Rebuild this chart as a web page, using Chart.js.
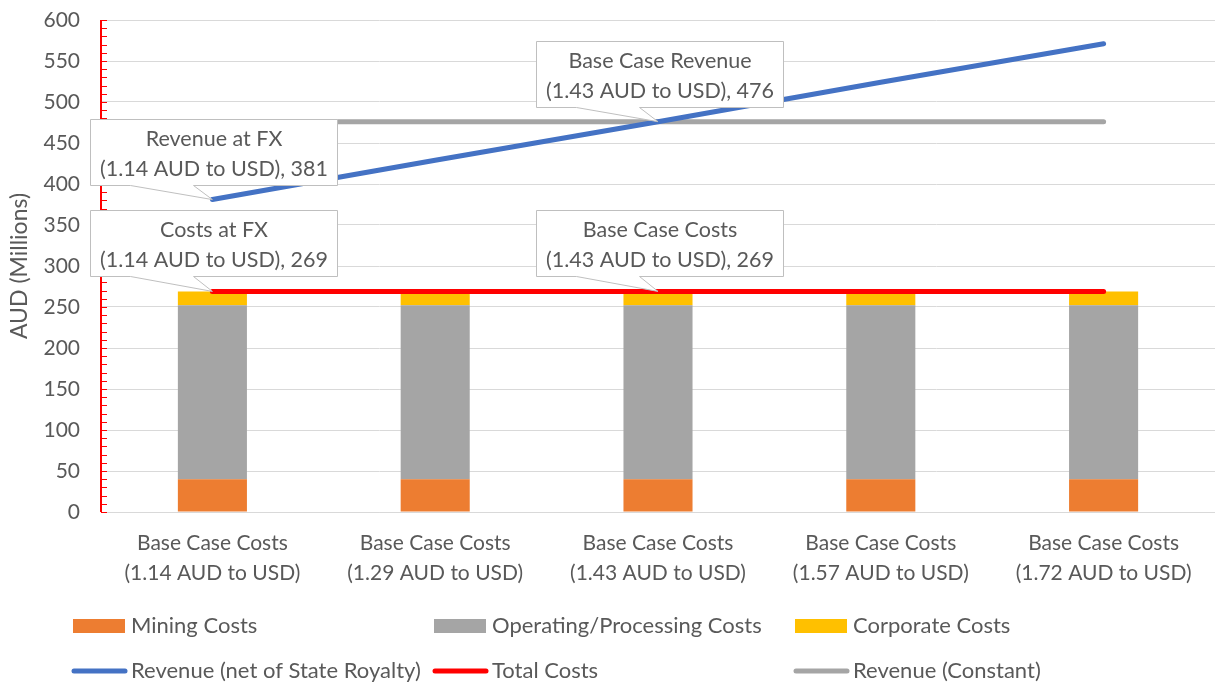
<!DOCTYPE html>
<html>
<head>
<meta charset="utf-8">
<script src="https://cdn.jsdelivr.net/npm/chart.js@4/dist/chart.umd.min.js"></script>
<style>
  html, body { margin: 0; padding: 0; background: #fff; }
  #wrap { width: 1215px; height: 684px; }
</style>
</head>
<body>
<div id="wrap"><canvas id="fxChart" width="1215" height="684"></canvas></div>
<script>
// FX sensitivity - costs vs revenue
const fxRates = ['1.14', '1.29', '1.43', '1.57', '1.72'];
const categories = fxRates.map(r => ['Base Case Costs', '(' + r + ' AUD to USD)']);

const miningCosts = [40, 40, 40, 40, 40];
const operatingCosts = [212, 212, 212, 212, 212];
const corporateCosts = [17, 17, 17, 17, 17];
const revenueNet = [381, 429, 476, 524, 571];
const totalCosts = [269, 269, 269, 269, 269];
const revenueConstant = [476, 476, 476, 476, 476];

const yMin = 0, yMax = 600, yStep = 50, yMinorStep = 10;

// callouts: which dataset / point, and heading text
const callouts = [
    { dataset: 3, index: 0, title: 'Revenue at FX' },
    { dataset: 4, index: 0, title: 'Costs at FX' },
    { dataset: 3, index: 2, title: 'Base Case Revenue' },
    { dataset: 4, index: 2, title: 'Base Case Costs' }
];

const FONT = 'Lato, "Open Sans", sans-serif';
const FS = 21;
const TEXT = '#595959';

const redAxis = {
    id: 'redAxis',
    afterDatasetsDraw: function (chart) {
        const ctx = chart.ctx;
        const y = chart.scales.y;
        const x0 = chart.chartArea.left;
        ctx.save();
        ctx.strokeStyle = '#ff0000';
        ctx.lineWidth = 1;
        for (let v = yMin; v <= yMax; v += yMinorStep) {
            const py = Math.round(y.getPixelForValue(v)) + 0.5;
            ctx.beginPath();
            ctx.moveTo(x0, py);
            ctx.lineTo(x0 + 6, py);
            ctx.stroke();
        }
        ctx.lineWidth = 2;
        ctx.beginPath();
        ctx.moveTo(x0, y.getPixelForValue(yMax));
        ctx.lineTo(x0, y.getPixelForValue(yMin));
        ctx.stroke();
        ctx.restore();
    }
};

const calloutLabels = {
    id: 'calloutLabels',
    afterDatasetsDraw: function (chart) {
        const ctx = chart.ctx;
        const w = 247, h = 66;
        ctx.save();
        callouts.forEach(function (c) {
            const pt = chart.getDatasetMeta(c.dataset).data[c.index];
            const value = chart.data.datasets[c.dataset].data[c.index];
            const px = pt.x, py = pt.y;
            const left = Math.round(px - 122) + 0.5;
            const bottom = Math.round(py - 15) + 0.5;
            const top = bottom - h;
            ctx.beginPath();
            ctx.moveTo(left, top);
            ctx.lineTo(left + w, top);
            ctx.lineTo(left + w, bottom);
            ctx.lineTo(left + 103, bottom);
            ctx.lineTo(px, py);
            ctx.lineTo(left + 40, bottom);
            ctx.lineTo(left, bottom);
            ctx.closePath();
            ctx.fillStyle = '#ffffff';
            ctx.fill();
            ctx.strokeStyle = '#bfbfbf';
            ctx.lineWidth = 1;
            ctx.stroke();

            ctx.fillStyle = TEXT;
            ctx.font = '21.5px ' + FONT;
            ctx.textAlign = 'center';
            ctx.textBaseline = 'middle';
            ctx.fillText(c.title, left + w / 2, top + 20);
            ctx.fillText('(' + fxRates[c.index] + ' AUD to USD), ' + value, left + w / 2, top + 50);
        });
        ctx.restore();
    }
};

const gridLegend = {
    id: 'gridLegend',
    afterDraw: function (chart) {
        const ctx = chart.ctx;
        const cols = [73, 434, 795];
        const rows = [626, 671];
        ctx.save();
        ctx.font = '22px ' + FONT;
        ctx.textBaseline = 'middle';
        ctx.textAlign = 'left';
        chart.data.datasets.forEach(function (ds, i) {
            const x = cols[i % 3];
            const y = rows[Math.floor(i / 3)];
            if (ds.type === 'line') {
                ctx.strokeStyle = ds.borderColor;
                ctx.lineWidth = 5;
                ctx.lineCap = 'round';
                ctx.beginPath();
                ctx.moveTo(x + 1, y);
                ctx.lineTo(x + 52, y);
                ctx.stroke();
            } else {
                ctx.fillStyle = ds.backgroundColor;
                ctx.fillRect(x, y - 7, 52, 14);
            }
            ctx.fillStyle = TEXT;
            ctx.fillText(ds.label, x + 58, y);
        });
        ctx.restore();
    }
};

const lineStyle = { type: 'line', borderWidth: 5, pointRadius: 0, pointHoverRadius: 0, borderCapStyle: 'round', tension: 0, fill: false, order: 0 };

new Chart(document.getElementById('fxChart').getContext('2d'), {
    type: 'bar',
    data: {
        labels: categories,
        datasets: [
            { label: 'Mining Costs', data: miningCosts, backgroundColor: '#ed7d31', stack: 'costs', order: 1 },
            { label: 'Operating/Processing Costs', data: operatingCosts, backgroundColor: '#a5a5a5', stack: 'costs', order: 1 },
            { label: 'Corporate Costs', data: corporateCosts, backgroundColor: '#ffc000', stack: 'costs', order: 1 },
            Object.assign({ label: 'Revenue (net of State Royalty)', data: revenueNet, borderColor: '#4472c4', backgroundColor: '#4472c4', stack: 'rev' }, lineStyle),
            Object.assign({ label: 'Total Costs', data: totalCosts, borderColor: '#ff0000', backgroundColor: '#ff0000', stack: 'tot' }, lineStyle),
            Object.assign({ label: 'Revenue (Constant)', data: revenueConstant, borderColor: '#a5a5a5', backgroundColor: '#a5a5a5', stack: 'const' }, lineStyle, { order: 2 })
        ]
    },
    options: {
        responsive: false,
        animation: false,
        layout: { padding: { top: 20, right: 0, bottom: 92, left: 0 } },
        datasets: { bar: { categoryPercentage: 1, barPercentage: 0.31 } },
        plugins: {
            legend: { display: false },
            tooltip: { enabled: false }
        },
        scales: {
            x: {
                stacked: true,
                grid: { display: false, drawTicks: false },
                border: { display: true, color: '#d9d9d9', width: 1 },
                ticks: { color: TEXT, font: { family: FONT, size: FS, lineHeight: 1.43 }, padding: 16, maxRotation: 0 },
                afterFit: function (scale) { scale.height = 80; }
            },
            y: {
                stacked: true,
                min: yMin,
                max: yMax,
                grid: { color: '#d9d9d9', lineWidth: 1, drawTicks: false },
                border: { display: false },
                ticks: { stepSize: yStep, color: TEXT, font: { family: FONT, size: FS }, padding: 21 },
                title: { display: true, text: 'AUD (Millions)', color: TEXT, font: { family: FONT, size: 23 }, padding: { top: 6, bottom: 0 } },
                afterFit: function (scale) {
                    scale.width = 101;
                    scale.paddingTop = 0;
                    scale.paddingBottom = 0;
                }
            }
        }
    },
    plugins: [redAxis, calloutLabels, gridLegend]
});
</script>
</body>
</html>
